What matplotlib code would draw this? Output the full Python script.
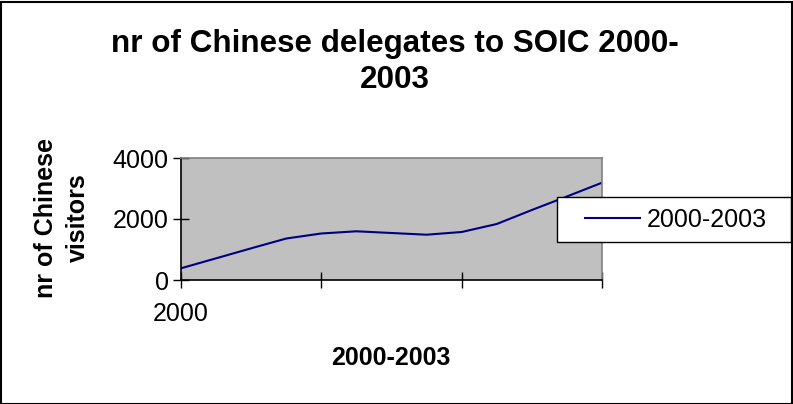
import matplotlib
matplotlib.use("Agg")
import matplotlib.pyplot as plt
from matplotlib.patches import Rectangle

plt.rcParams['font.family'] = ['Liberation Sans', 'DejaVu Sans']

# ---- data (quarterly points, 2000 -> 2003) ----
periods = list(range(13))
visitors = [384, 711, 1039, 1360, 1525, 1597, 1541, 1485, 1574, 1836, 2295, 2738, 3190]
tick_positions = [0, 4, 8, 12]
tick_labels = ["2000", "", "", ""]
y_ticks = [0, 2000, 4000]
series_name = "2000-2003"
title = "nr of Chinese delegates to SOIC 2000-\n2003"
y_label = "nr of Chinese\nvisitors"
x_label = "2000-2003"

W, H = 793, 404
fig = plt.figure(figsize=(W / 100, H / 100), dpi=100)
fig.patch.set_facecolor("white")

def fx(px):
    return px / W

def fy(py):
    return 1 - py / H

ax = fig.add_axes([fx(181), fy(280), fx(602) - fx(181), fy(158) - fy(280)])
ax.set_facecolor("#C0C0C0")
line, = ax.plot(periods, visitors, color="#000080", lw=1.5, label=series_name)

ax.set_xlim(0, 12)
ax.set_ylim(0, 4000)
ax.set_xticks(tick_positions)
ax.set_xticklabels(tick_labels)
ax.set_yticks(y_ticks)
ax.set_yticklabels([str(v) for v in y_ticks])

for s in ["top", "right"]:
    ax.spines[s].set_color("#808080")
    ax.spines[s].set_linewidth(1.2)
for s in ["left", "bottom"]:
    ax.spines[s].set_color("black")
    ax.spines[s].set_linewidth(1.2)

ax.tick_params(axis="both", direction="inout", length=12, width=1, color="black",
               labelsize=18, labelcolor="black")
ax.tick_params(axis="y", pad=3)
ax.tick_params(axis="x", pad=10)

fig.text(fx(395), fy(62), title, ha="center", va="center", fontsize=22.6,
         fontweight="bold", linespacing=1.3)
fig.text(fx(62), fy(218), y_label, ha="center", va="center", fontsize=18,
         fontweight="bold", rotation=90, linespacing=1.4)
fig.text(fx(391), fy(358), x_label, ha="center", va="center", fontsize=18,
         fontweight="bold")

# legend frame
fig.add_artist(Rectangle((fx(557), fy(242)), fx(791) - fx(557), fy(197) - fy(242),
                         transform=fig.transFigure, facecolor="white",
                         edgecolor="black", lw=1, zorder=4))
fig.legend(handles=[line], loc="center left", bbox_to_anchor=(fx(585), fy(219.5)),
           frameon=False, fontsize=18, handlelength=2.2, handletextpad=0.25,
           borderpad=0, borderaxespad=0)

# outer border
fig.add_artist(Rectangle((0.5 / W, 0.5 / H), 1 - 2.0 / W, 1 - 2.0 / H,
                         transform=fig.transFigure, facecolor="none",
                         edgecolor="black", lw=1.5, zorder=10))

fig.savefig("out.png", dpi=100)
